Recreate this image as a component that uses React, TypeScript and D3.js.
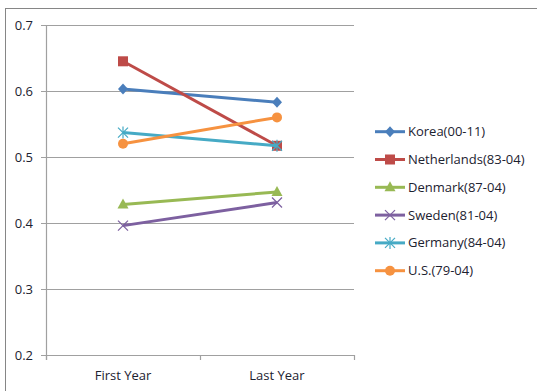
import React from "react";
import * as d3 from "d3";

const categories = ["First Year", "Last Year"];
const seriesNames = ["Korea(00-11)", "Netherlands(83-04)", "Denmark(87-04)", "Sweden(81-04)", "Germany(84-04)", "U.S.(79-04)"];
const korea = [0.603, 0.583];
const netherlands = [0.645, 0.517];
const denmark = [0.428, 0.447];
const sweden = [0.396, 0.431];
const germany = [0.537, 0.517];
const us = [0.520, 0.560];
const yTicks = [0.2, 0.3, 0.4, 0.5, 0.6, 0.7];

const seriesValues = [korea, netherlands, denmark, sweden, germany, us];
const colors = ["#4A7EBB", "#BE4B48", "#98B954", "#7D60A0", "#46AAC5", "#F69240"];
const markers = ["diamond", "square", "triangle", "x", "star", "circle"];

function Marker({ type, x, y, color }: { type: string; x: number; y: number; color: string }) {
  switch (type) {
    case "diamond":
      return <path d={`M${x},${y - 5.5}L${x + 5},${y}L${x},${y + 5.5}L${x - 5},${y}Z`} fill={color} />;
    case "square":
      return <rect x={x - 5} y={y - 5} width={10} height={10} fill={color} />;
    case "triangle":
      return <path d={`M${x},${y - 6}L${x + 5.5},${y + 4}L${x - 5.5},${y + 4}Z`} fill={color} />;
    case "x":
      return (
        <g stroke={color} strokeWidth={1.2}>
          <line x1={x - 5} y1={y - 5} x2={x + 5} y2={y + 5} />
          <line x1={x - 5} y1={y + 5} x2={x + 5} y2={y - 5} />
        </g>
      );
    case "star":
      return (
        <g stroke={color} strokeWidth={1.2}>
          <line x1={x - 5} y1={y - 5} x2={x + 5} y2={y + 5} />
          <line x1={x - 5} y1={y + 5} x2={x + 5} y2={y - 5} />
          <line x1={x} y1={y - 6} x2={x} y2={y + 6} />
        </g>
      );
    default:
      return <circle cx={x} cy={y} r={5} fill={color} />;
  }
}

export default function App() {
  const W = 537, H = 391;
  const left = 46, right = 354, top = 25, bottom = 355;
  const x = d3.scaleBand<string>().domain(categories).range([left, right]);
  const y = d3.scaleLinear().domain([0.2, 0.7]).range([bottom, top]);
  const font = "'Open Sans', sans-serif";
  const fs = 13;
  const line = d3
    .line<number>()
    .x((_, i) => (x(categories[i]) as number) + x.bandwidth() / 2)
    .y((d) => y(d));

  return (
    <svg width={W} height={H} style={{ position: "absolute", left: 0, top: 0 }} fontFamily={font}>
      <rect x={0} y={0} width={W} height={H} fill="#fff" />
      <rect x={5.5} y={8.5} width={W} height={H} fill="none" stroke="#868686" strokeWidth={1} />
      {yTicks.map((t) => (
        <g key={t}>
          <line x1={left - 5} x2={right} y1={Math.round(y(t)) + 0.5} y2={Math.round(y(t)) + 0.5} stroke="#A0A0A0" strokeWidth={1.2} />
          <text x={33} y={y(t) + 4.5} textAnchor="end" fontSize={fs} fill="#1c2230">
            {t.toFixed(1)}
          </text>
        </g>
      ))}
      <line x1={left + 0.5} x2={left + 0.5} y1={top} y2={bottom + 5} stroke="#A0A0A0" strokeWidth={1.2} />
      {[left, left + x.bandwidth(), right].map((p, i) => (
        <line key={i} x1={p + 0.5} x2={p + 0.5} y1={bottom} y2={bottom + 5} stroke="#A0A0A0" strokeWidth={1.2} />
      ))}
      {categories.map((c) => (
        <text key={c} x={(x(c) as number) + x.bandwidth() / 2} y={380} textAnchor="middle" fontSize={fs} fill="#1c2230">
          {c}
        </text>
      ))}
      {seriesValues.map((vals, si) => (
        <g key={si}>
          <path d={line(vals) || ""} fill="none" stroke={colors[si]} strokeWidth={3} strokeLinejoin="round" />
          {vals.map((v, i) => (
            <Marker key={i} type={markers[si]} x={(x(categories[i]) as number) + x.bandwidth() / 2} y={y(v)} color={colors[si]} />
          ))}
        </g>
      ))}
      {seriesNames.map((n, i) => {
        const ly = 131.7 + i * 27.8;
        return (
          <g key={n}>
            <line x1={375} x2={405} y1={ly} y2={ly} stroke={colors[i]} strokeWidth={3} />
            <Marker type={markers[i]} x={390} y={ly} color={colors[i]} />
            <text x={408} y={ly + 4.5} fontSize={fs} fill="#1c2230">
              {n}
            </text>
          </g>
        );
      })}
    </svg>
  );
}
